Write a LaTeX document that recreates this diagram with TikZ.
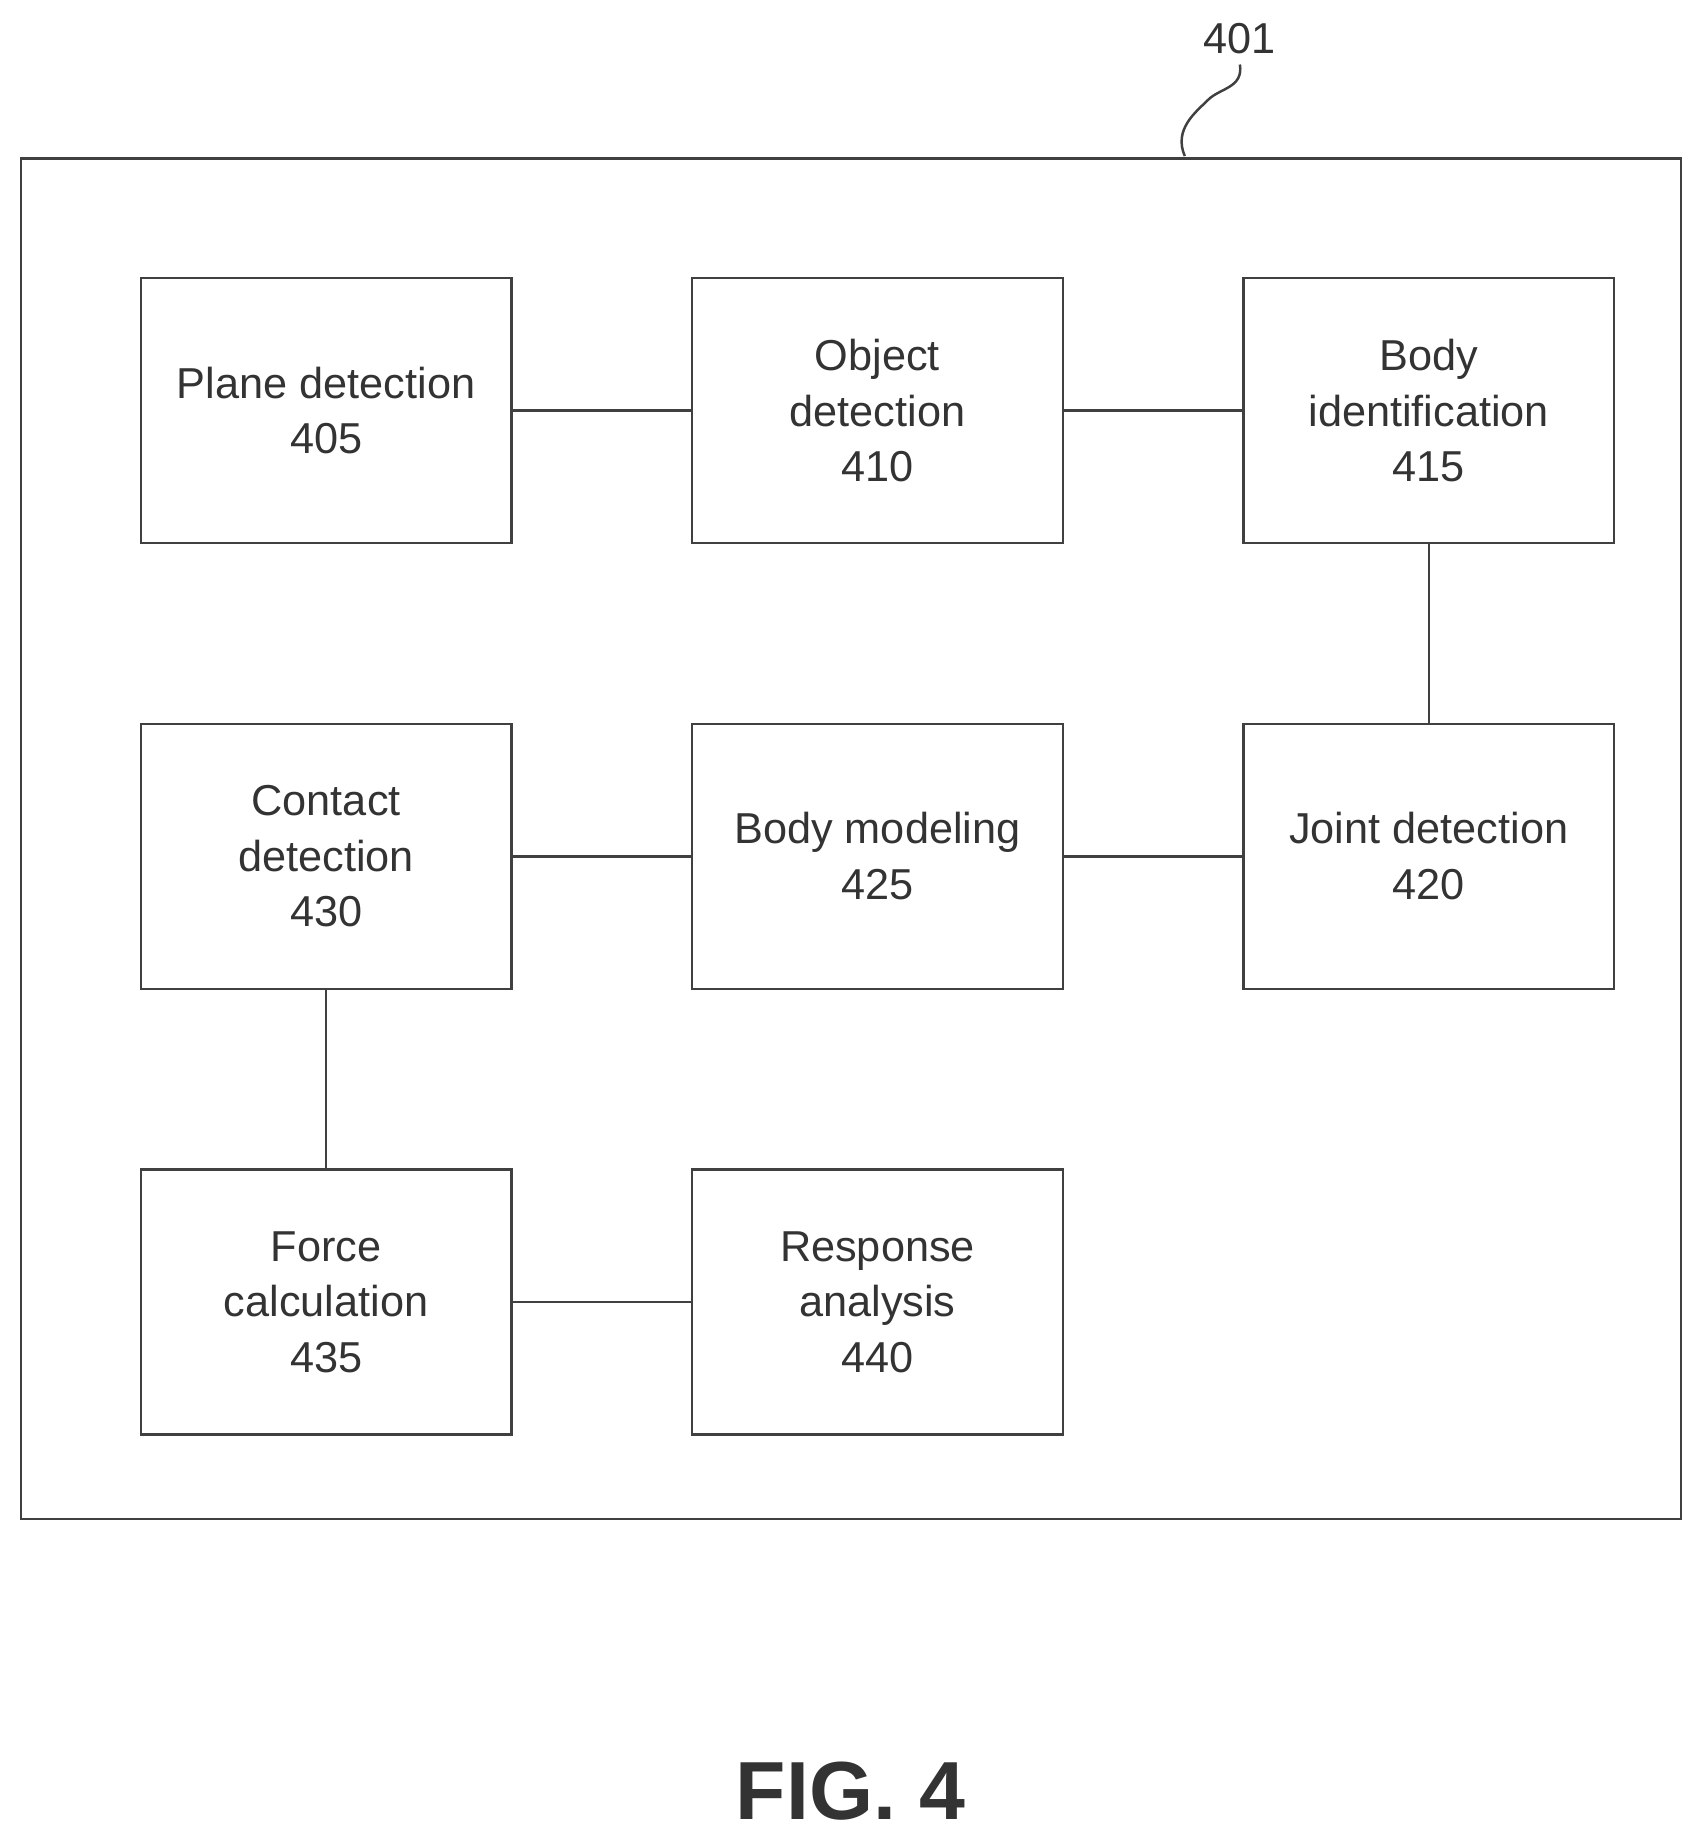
\documentclass[tikz,border=0pt]{standalone}
\usepackage{fontspec}
\setmainfont{Liberation Sans}
\begin{document}
\begin{tikzpicture}[x=0.02cm,y=-0.02cm,
 box/.style={draw=black!75,line width=1.2pt,minimum width=316*0.02cm,minimum height=226*0.02cm,align=center,font=\fontsize{21}{27}\selectfont,text=black!80},
 ln/.style={draw=black!75,line width=1.2pt}]
\useasboundingbox (0,0) rectangle (1450,1566);
\draw[ln] (18,135) rectangle (1433,1295);
\node[font=\fontsize{21}{25}\selectfont,text=black!80] (l401) at (1057,33) {401};
\draw[ln] (1010,133) .. controls (1000,110) and (1020,95) .. (1030,85) .. controls (1040,75) and (1060,75) .. (1057,55);
\node[box] (a) at (278,350) {Plane detection\\405};
\node[box] (b) at (748,350) {Object\\detection\\410};
\node[box] (c) at (1218,350) {Body\\identification\\415};
\node[box] (d) at (1218,730) {Joint detection\\420};
\node[box] (e) at (748,730) {Body modeling\\425};
\node[box] (f) at (278,730) {Contact\\detection\\430};
\node[box] (g) at (278,1110) {Force\\calculation\\435};
\node[box] (h) at (748,1110) {Response\\analysis\\440};
\draw[ln] (a)--(b); \draw[ln] (b)--(c); \draw[ln] (c)--(d); \draw[ln] (d)--(e);
\draw[ln] (e)--(f); \draw[ln] (f)--(g); \draw[ln] (g)--(h);
\node[font=\fontsize{40}{44}\selectfont\bfseries,text=black!80] (fig) at (725,1527) {FIG. 4};
\end{tikzpicture}
\end{document}
